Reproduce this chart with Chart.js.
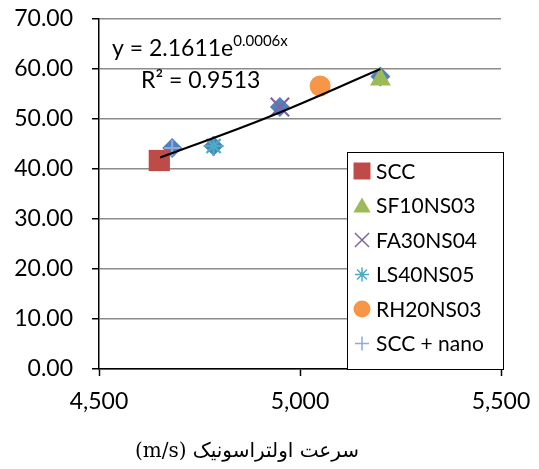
<!DOCTYPE html>
<html>
<head>
<meta charset="utf-8">
<script src="https://cdn.jsdelivr.net/npm/chart.js@4"></script>
<style>
  html, body { margin: 0; padding: 0; background: #fff; }
  #wrap { width: 539px; height: 469px; }
</style>
</head>
<body>
<div id="wrap"><canvas id="chart"></canvas></div>
<script>
// values: ultrasonic speed (m/s) vs value
var seriesNames = ["SCC", "SF10NS03", "FA30NS04", "LS40NS05", "RH20NS03", "SCC + nano"];
var seriesX = [4650, 5200, 4950, 4785, 5050, 4682];
var seriesY = [41.7, 57.9, 52.4, 44.6, 56.6, 44.2];
var seriesColors = ["#BE4B48", "#9BBB59", "#8064A2", "#4BACC6", "#F79646", "#8EA9DB"];
var seriesStyles = ["rect", "triangle", "crossRot", "star", "circle", "cross"];
var seriesSizes = [15, 12, 13, 10, 10.5, 8];

// blue diamonds behind the nano points (no legend entry)
var diamondX = [4682, 4785, 4950, 5200];
var diamondY = [44.2, 44.6, 52.4, 58.5];

// exponential trendline, points
var trendX = [4652, 4925, 5200];
var trendY = [42.3, 50.5, 60.0];

var yTicks = [0, 10, 20, 30, 40, 50, 60, 70];
var xTicks = [4500, 5000, 5500];

var axisTitle = "(m/s) سرعت اولتراسونیک";

var sansFamily = "Lato, 'Liberation Sans', sans-serif";
var tickFont = { family: sansFamily, size: 23 };

var datasets = [{
  label: "trend",
  type: "line",
  data: trendX.map(function(x, i) { return { x: x, y: trendY[i] }; }),
  borderColor: "#000",
  borderWidth: 2,
  pointRadius: 0,
  tension: 0.4,
  fill: false
}];

function isFilled(st) {
  return st === "rect" || st === "triangle" || st === "circle";
}

seriesNames.forEach(function(name, i) {
  datasets.push({
    label: name,
    data: [{ x: seriesX[i], y: seriesY[i] }],
    pointStyle: seriesStyles[i],
    pointRadius: seriesSizes[i],
    backgroundColor: seriesColors[i],
    borderColor: seriesColors[i],
    borderWidth: isFilled(seriesStyles[i]) ? 0 : 2.2
  });
});

datasets.push({
  label: "diamonds",
  data: diamondX.map(function(x, i) { return { x: x, y: diamondY[i] }; }),
  pointStyle: "rectRot",
  pointRadius: 10,
  backgroundColor: "#4F81BD",
  borderColor: "#4F81BD",
  borderWidth: 0
});

// legend box, trendline equation and axis title drawn by hand
var legendSizes = { rect: 12, triangle: 10, crossRot: 10, star: 7, circle: 8.5, cross: 7 };

var extras = {
  id: "extras",
  afterDraw: function(chart) {
    var ctx = chart.ctx;
    var ca = chart.chartArea;
    ctx.save();

    // equation
    ctx.fillStyle = "#000";
    ctx.textBaseline = "alphabetic";
    ctx.textAlign = "left";
    ctx.font = "23px " + sansFamily;
    var eq = "y = 2.1611e";
    ctx.fillText(eq, ca.left + 13, 56);
    var w = ctx.measureText(eq).width;
    ctx.font = "15px " + sansFamily;
    ctx.fillText("0.0006x", ca.left + 13 + w, 46);
    ctx.font = "23px " + sansFamily;
    ctx.fillText("R\u00B2 = 0.9513", ca.left + 42, 88);

    // x axis title
    ctx.font = "20px 'DejaVu Serif', 'DejaVu Sans', serif";
    ctx.textAlign = "center";
    ctx.textBaseline = "middle";
    ctx.direction = "ltr";
    ctx.fillText(axisTitle, 247, 452);

    // legend
    var bx = 347, by = 152, bw = 156, bh = ca.bottom - by;
    ctx.textAlign = "left";
    ctx.fillStyle = "#fff";
    ctx.fillRect(bx, by, bw, bh);
    ctx.strokeStyle = "#000";
    ctx.lineWidth = 1;
    ctx.strokeRect(bx + 0.5, by + 0.5, bw, bh);
    ctx.font = "21px " + sansFamily;
    seriesNames.forEach(function(name, i) {
      var cy = by + 19 + i * 34.5;
      var st = seriesStyles[i];
      ctx.fillStyle = seriesColors[i];
      ctx.strokeStyle = seriesColors[i];
      ctx.lineWidth = 1.5;
      Chart.helpers.drawPoint(ctx, {
        pointStyle: st,
        radius: legendSizes[st],
        borderWidth: isFilled(st) ? 0 : 1.5,
        rotation: 0
      }, bx + 15, st === "triangle" ? cy + 2 : cy);
      ctx.fillStyle = "#000";
      ctx.fillText(name, bx + 29, cy + 1);
    });
    ctx.restore();
  }
};

new Chart(document.getElementById("chart"), {
  type: "scatter",
  data: { datasets: datasets },
  plugins: [extras],
  options: {
    responsive: true,
    maintainAspectRatio: false,
    animation: false,
    layout: { padding: { left: 0, right: 38, top: 19, bottom: 0 } },
    plugins: {
      legend: { display: false },
      tooltip: { enabled: false }
    },
    scales: {
      x: {
        type: "linear",
        min: 4500,
        max: 5500,
        afterBuildTicks: function(scale) {
          scale.ticks = xTicks.map(function(v) { return { value: v }; });
        },
        afterFit: function(scale) {
          scale.height = 100;
          scale.paddingLeft = 0;
          scale.paddingRight = 0;
        },
        border: { display: true, color: "#000", width: 1.5 },
        grid: { drawOnChartArea: false, drawTicks: true, tickLength: 7, tickColor: "#000", tickWidth: 1.5 },
        ticks: {
          color: "#000",
          font: tickFont,
          padding: 12,
          maxRotation: 0,
          callback: function(v) { return v.toLocaleString("en-US"); }
        }
      },
      y: {
        min: 0,
        max: 70,
        afterBuildTicks: function(scale) {
          scale.ticks = yTicks.map(function(v) { return { value: v }; });
        },
        afterFit: function(scale) {
          scale.width = 99;
          scale.paddingTop = 0;
          scale.paddingBottom = 0;
        },
        border: { display: true, color: "#000", width: 1.5 },
        grid: { color: "#8C8C8C", lineWidth: 1.5, drawTicks: true, tickLength: 7, tickColor: "#000", tickWidth: 1.5 },
        ticks: {
          color: "#000",
          font: tickFont,
          padding: 19,
          callback: function(v) { return v.toFixed(2); }
        }
      }
    }
  }
});
</script>
</body>
</html>
